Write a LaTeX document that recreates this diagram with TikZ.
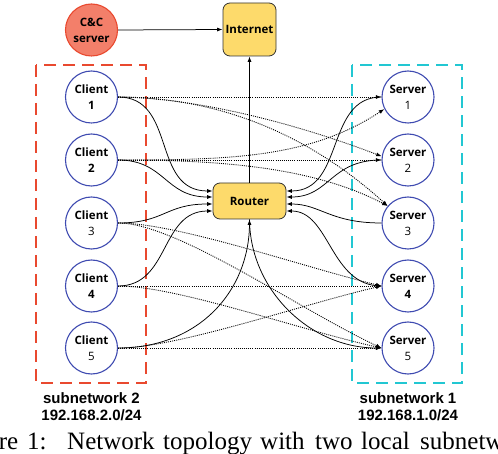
\documentclass[tikz,border=0pt]{standalone}
\usepackage{fontspec}
\setmainfont{Open Sans}
\newfontfamily\labelfont{Liberation Sans}
\newfontfamily\capfont{Liberation Serif}
\usetikzlibrary{arrows.meta}
\definecolor{hostblue}{HTML}{3F4BB1}
\definecolor{ccfill}{HTML}{F37F6A}
\definecolor{ccdraw}{HTML}{E9492F}
\definecolor{yel}{HTML}{FDDA6B}
\definecolor{redbox}{HTML}{E9492F}
\definecolor{cyanbox}{HTML}{22C7D2}
\tikzset{
  host/.style={circle, draw=hostblue, line width=1.1pt, fill=white, minimum size=52pt,
    inner sep=0pt, align=center, font=\fontsize{11.5}{16}\selectfont},
  ccnode/.style={host, draw=ccdraw, fill=ccfill},
  ybox/.style={rounded corners=7pt, draw=black!80, line width=0.8pt, fill=yel,
    inner sep=0pt, font=\fontsize{11.5}{14}\selectfont\bfseries},
  link/.style={line width=0.75pt, -{Latex[length=5.5pt,width=4pt]}},
  flow/.style={link, line width=0.85pt, dash pattern=on 1pt off 1.1pt},
  subnet/.style={line width=2.6pt, dash pattern=on 12pt off 7pt},
  netlabel/.style={font=\labelfont\fontsize{15}{17}\selectfont\bfseries, anchor=base, inner sep=0pt},
  capword/.style={font=\capfont\fontsize{25}{25}\selectfont, anchor=base west, inner sep=0pt}
}
\begin{document}
\begin{tikzpicture}[x=1pt, y=-1pt]
\useasboundingbox (0,0) rectangle (498,454);
\clip (0,0) rectangle (498,454);
% subnet boxes
\draw[subnet, redbox] (36,65) rectangle (146,383);
\draw[subnet, cyanbox] (352,65) rectangle (462,383);
% nodes
\node[ccnode] (cc) at (91.5,30) {\bfseries C\&C\\\bfseries server};
\node[ybox, minimum width=53pt, minimum height=53pt] (internet) at (249.5,29.5) {Internet};
\node[ybox, minimum width=73pt, minimum height=36pt] (router) at (249.5,201) {Router};
\node[host] (c1) at (91.5,97) {\bfseries Client\\\bfseries 1};
\node[host] (c2) at (91.5,160) {\bfseries Client\\\bfseries 2};
\node[host] (c3) at (91.5,223) {\bfseries Client\\3};
\node[host] (c4) at (91.5,286) {\bfseries Client\\\bfseries 4};
\node[host] (c5) at (91.5,348) {\bfseries Client\\5};
\node[host] (s1) at (408,97) {\bfseries Server\\1};
\node[host] (s2) at (408,160) {\bfseries Server\\2};
\node[host] (s3) at (408,223) {\bfseries Server\\3};
\node[host] (s4) at (408,286) {\bfseries Server\\\bfseries 4};
\node[host] (s5) at (408,348) {\bfseries Server\\5};
% labels
\node[netlabel] (l2a) at (91.5,403) {subnetwork 2};
\node[netlabel] (l2b) at (91.5,420) {192.168.2.0/24};
\node[netlabel] (l1a) at (408,403) {subnetwork 1};
\node[netlabel] (l1b) at (408,420) {192.168.1.0/24};
% caption (cut off at the edges, as in the reference)
\node[capword, anchor=base east] (w0) at (18.5,449) {Figure};
\node[capword] (w1) at (27,449) {1:};
\node[capword] (w2) at (67,449) {Network};
\node[capword] (w3) at (163,449) {topology};
\node[capword] (w4) at (260,449) {with};
\node[capword] (w5) at (315,449) {two};
\node[capword] (w6) at (361,449) {local};
\node[capword] (w7) at (420,449) {subnetworks};
% solid links
\draw[link] (cc.east) -- (internet.west);
\draw[link] (router.north) -- (internet.south);
\draw[link] (c1.east) .. controls (177,97) and (151,191) .. ([yshift=10pt]router.west);
\draw[link] (c2.east) .. controls (165,160) and (165,197) .. ([yshift=4pt]router.west);
\draw[link] (c3.east) .. controls (165,223) and (165,204) .. ([yshift=-3pt]router.west);
\draw[link] (c4.east) .. controls (170,286) and (160,211) .. ([yshift=-10pt]router.west);
\draw[link] (c5.east) .. controls (200,348) and (249,290) .. (router.south);
\draw[link] (router.south) .. controls (250,290) and (310,348) .. (s5.west);
\draw[link] (s1.west) .. controls (325,97) and (345,191) .. ([yshift=10pt]router.east);
\draw[link] (s2.west) .. controls (330,160) and (330,197) .. ([yshift=4pt]router.east);
\draw[link] (s3.west) .. controls (330,223) and (320,204) .. ([yshift=-3pt]router.east);
\draw[link] (s4.west) .. controls (330,286) and (330,211) .. ([yshift=-10pt]router.east);
% dotted flows
\draw[flow] (c1.east) -- (s1.west);
\draw[flow] (c1.east) .. controls (200,98) and (300,125) .. (s2.172);
\draw[flow] (c1.east) .. controls (200,97) and (295,122) .. (s3.140);
\draw[flow] (c2.east) -- (s2.west);
\draw[flow] (c2.east) .. controls (230,160) and (310,158) .. (s1.207);
\draw[flow] (c2.east) .. controls (210,160) and (310,165) .. (s3.140);
\draw[flow] (c3.east) .. controls (177,223) and (300,266) .. (s4.west);
\draw[flow] (c3.east) .. controls (177,223) and (300,310) .. (s5.west);
\draw[flow] (c4.east) -- (s4.west);
\draw[flow] (c4.east) .. controls (177,286) and (300,330) .. (s5.west);
\draw[flow] (c5.east) -- (s5.west);
\draw[flow] (c5.east) .. controls (177,348) and (300,305) .. (s4.west);
\end{tikzpicture}
\end{document}
